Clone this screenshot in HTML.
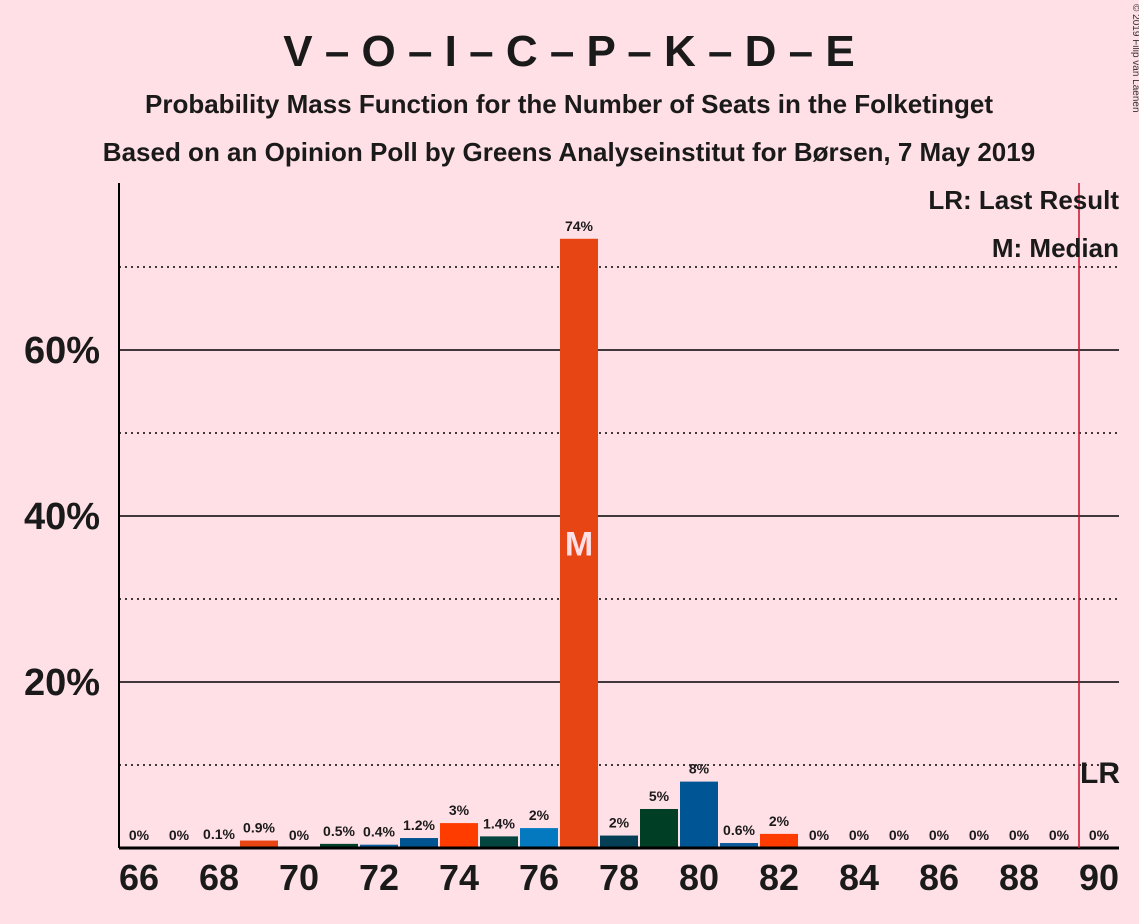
<!DOCTYPE html>
<html><head><meta charset="utf-8"><style>
body{margin:0;background:#FFE0E6;font-family:"Liberation Sans",sans-serif;}
svg{display:block}
</style></head><body>
<svg id="c" width="1139" height="924">
<rect width="1139" height="924" fill="#FFE0E6"/>
<text x="569" y="66" text-anchor="middle" font-size="44" font-weight="bold" fill="#1a1a1a">V – O – I – C – P – K – D – E</text>
<text x="569" y="113" text-anchor="middle" font-size="26" font-weight="bold" fill="#1a1a1a">Probability Mass Function for the Number of Seats in the Folketinget</text>
<text x="569" y="161" text-anchor="middle" font-size="26" font-weight="bold" fill="#1a1a1a">Based on an Opinion Poll by Greens Analyseinstitut for Børsen, 7 May 2019</text>
<text x="1133" y="4" font-size="10" fill="#333" transform="rotate(90 1133 4)">© 2019 Filip van Laenen</text>
<g id="grid"></g>
<g id="bars"></g>
<g id="xt"></g>
<line x1="119" y1="183" x2="119" y2="848" stroke="#000" stroke-width="2"/>
<line x1="119" y1="848" x2="1119" y2="848" stroke="#000" stroke-width="3"/>
<line x1="1079" y1="183" x2="1079" y2="848" stroke="#C8102E" stroke-width="1.5"/>
<text x="1119" y="209" text-anchor="end" font-size="26" font-weight="bold" fill="#1a1a1a">LR: Last Result</text>
<text x="1119" y="257" text-anchor="end" font-size="26" font-weight="bold" fill="#1a1a1a">M: Median</text>
<text x="1120" y="783" text-anchor="end" font-size="30" font-weight="bold" fill="#1a1a1a">LR</text>
</svg>
<script>
const seats=[66,67,68,69,70,71,72,73,74,75,76,77,78,79,80,81,82,83,84,85,86,87,88,89,90];
const probs=[0,0,0.1,0.9,0,0.5,0.4,1.2,3,1.4,2.4,73.4,1.5,4.7,8,0.6,1.7,0,0,0,0,0,0,0,0];
const labels=["0%","0%","0.1%","0.9%","0%","0.5%","0.4%","1.2%","3%","1.4%","2%","74%","2%","5%","8%","0.6%","2%","0%","0%","0%","0%","0%","0%","0%","0%"];
const colors=["#E84514","#00402A","#0B5A9A","#005391","#FF3C00","#04453F","#0479C0","#E84514","#043F55","#003E25","#005595","#0B5A9A","#FF3C00"];
const yTicks=[20,40,60];
const yMinor=[10,30,50,70];
const medianSeat=77;
const NS="http://www.w3.org/2000/svg";
const X=s=>139+(s-66)*40;
const Y=p=>848-p*8.3;
function mk(t,a,p){const e=document.createElementNS(NS,t);for(const k in a)e.setAttribute(k,a[k]);p.appendChild(e);return e;}
const g=document.getElementById('grid');
yMinor.forEach(v=>{const l=mk('line',{x1:119,x2:1119,y1:Y(v),y2:Y(v),stroke:'#000','stroke-width':1.5,'stroke-dasharray':'2,4'},g);

});
yTicks.forEach(v=>{const l=mk('line',{x1:119,x2:1119,y1:Y(v),y2:Y(v),stroke:'#000','stroke-width':1.5},g);


const t=mk('text',{x:100,y:Y(v)+13,'text-anchor':'end','font-size':38,'font-weight':'bold',fill:'#1a1a1a'},g);t.textContent=v+'%';

});
const b=document.getElementById('bars');
let ci=0;
seats.forEach((s,i)=>{const p=probs[i];
if(p>0){const r=mk('rect',{x:X(s)-19,y:Y(p),width:38,height:848-Y(p),fill:colors[ci%colors.length]},b);

}
if(s>=69&&s<=82&&s!==70)ci++;
const t=mk('text',{x:X(s),y:Y(p)-8,'text-anchor':'middle','font-size':14,'font-weight':'bold',fill:'#1a1a1a'},b);t.textContent=labels[i];


if(s===medianSeat){const m=mk('text',{x:X(s),y:Y(p/2)+12,'text-anchor':'middle','font-size':34,'font-weight':'bold',fill:'#FFE0E6'},b);m.textContent='M';

}
});
const xt=document.getElementById('xt');
seats.filter(s=>s%2===0).forEach(s=>{const t=mk('text',{x:X(s),y:890,'text-anchor':'middle','font-size':36,'font-weight':'bold',fill:'#1a1a1a'},xt);t.textContent=s;

});
</script>
</body></html>
